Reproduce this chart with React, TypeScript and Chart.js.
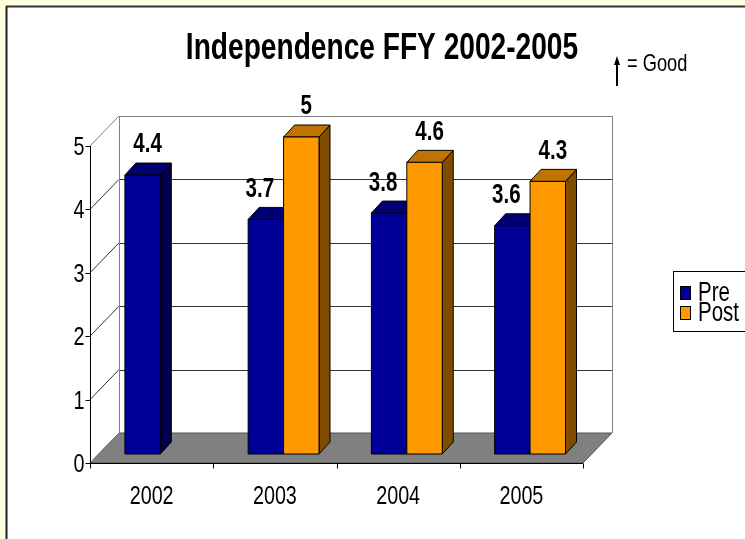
import React, { useEffect, useRef } from "react";
import { Chart, registerables } from "chart.js";

Chart.register(...registerables);

const categories = ["2002", "2003", "2004", "2005"];
const preValues: (number | null)[] = [4.4, 3.7, 3.8, 3.6];
const postValues: (number | null)[] = [null, 5, 4.6, 4.3];
const yTicks = [0, 1, 2, 3, 4, 5];
const seriesNames = ["Pre", "Post"];
const titleText = "Independence FFY 2002-2005";
const goodText = "= Good";

const frontColors = ["#000099", "#FF9900"];
const topColors = ["#000073", "#C07300"];
const sideColors = ["#00004D", "#7F4C00"];

const W = 745;
const H = 539;
const NARROW = 0.76;
const FONT = "'Liberation Sans', Arial, sans-serif";

function ntext(
  ctx: CanvasRenderingContext2D,
  text: string,
  x: number,
  y: number,
  font: string,
  align: CanvasTextAlign,
  color = "#000"
) {
  ctx.save();
  ctx.font = font;
  ctx.fillStyle = color;
  ctx.textBaseline = "middle";
  ctx.textAlign = align;
  ctx.translate(x, y);
  ctx.scale(NARROW, 1);
  ctx.fillText(text, 0, 0);
  ctx.restore();
}

function line(ctx: CanvasRenderingContext2D, x1: number, y1: number, x2: number, y2: number, color: string, w = 1) {
  ctx.save();
  ctx.strokeStyle = color;
  ctx.lineWidth = w;
  ctx.beginPath();
  ctx.moveTo(x1, y1);
  ctx.lineTo(x2, y2);
  ctx.stroke();
  ctx.restore();
}

function poly(ctx: CanvasRenderingContext2D, pts: number[][], fill: string, stroke: string | null) {
  ctx.save();
  ctx.beginPath();
  ctx.moveTo(pts[0][0], pts[0][1]);
  for (let i = 1; i < pts.length; i++) ctx.lineTo(pts[i][0], pts[i][1]);
  ctx.closePath();
  ctx.fillStyle = fill;
  ctx.fill();
  if (stroke) {
    ctx.strokeStyle = stroke;
    ctx.lineWidth = 1;
    ctx.stroke();
  }
  ctx.restore();
}

// 3D offsets relative to the bar plane (the chart area)
const FDX = -8.7, FDY = 9; // front plane
const BDX = 20.3, BDY = -21; // back wall
const DDX = 11, DDY = -12; // bar depth

const threeD = {
  id: "threeD",
  beforeDraw(chart: any) {
    const ctx = chart.ctx as CanvasRenderingContext2D;
    ctx.save();
    ctx.fillStyle = "#FFFFE0";
    ctx.fillRect(0, 0, W, H);
    ctx.fillStyle = "#FFFFFF";
    ctx.fillRect(7, 7, W - 7, H - 7);
    ctx.restore();
    line(ctx, 6, 6.5, W, 6.5, "#333", 2);
    line(ctx, 6.5, 6, 6.5, H, "#222", 2);
  },
  beforeDatasetsDraw(chart: any) {
    const ctx = chart.ctx as CanvasRenderingContext2D;
    const xs = chart.scales.x;
    const ys = chart.scales.y;
    const area = chart.chartArea;
    const L = area.left, R = area.right;
    const y0 = ys.getPixelForValue(0);
    const yMax = ys.getPixelForValue(5);
    const catW = (R - L) / categories.length;

    const bl = L + BDX, br = R + BDX;
    // floor
    poly(ctx, [[L + FDX, y0 + FDY], [R + FDX, y0 + FDY], [br, y0 + BDY], [bl, y0 + BDY]], "#808080", "#555");

    // gridlines on back and side walls
    yTicks.forEach((v) => {
      const y = ys.getPixelForValue(v);
      const col = v === 5 ? "#808080" : "#333";
      if (v > 0) {
        line(ctx, bl, Math.round(y + BDY) + 0.5, br, Math.round(y + BDY) + 0.5, col);
      }
      line(ctx, L + FDX, y + FDY, bl, y + BDY, v === 5 || v === 0 ? "#808080" : "#333");
    });
    line(ctx, Math.round(bl) + 0.5, yMax + BDY, Math.round(bl) + 0.5, y0 + BDY, "#808080");
    line(ctx, Math.round(br) + 0.5, yMax + BDY, Math.round(br) + 0.5, y0 + BDY, "#808080");

    // front axes
    const fx = Math.round(L + FDX) + 0.5;
    line(ctx, fx, yMax + FDY, fx, y0 + FDY, "#000");
    const fy = Math.round(y0 + FDY) + 0.5;
    line(ctx, L + FDX, fy, R + FDX, fy, "#000");
    yTicks.forEach((v) => {
      const y = Math.round(ys.getPixelForValue(v) + FDY) + 0.5;
      line(ctx, fx - 5, y, fx, y, "#000");
      ntext(ctx, String(v), fx - 6, y + 1, `26px ${FONT}`, "right");
    });
    for (let i = 0; i <= categories.length; i++) {
      const x = Math.round(L + FDX + i * catW) + 0.5;
      line(ctx, x, fy, x, fy + 5, "#000");
    }
    categories.forEach((c, i) => {
      const x = xs.getPixelForValue(i) + FDX;
      ntext(ctx, c, x, fy + 33, `26px ${FONT}`, "center");
    });

    // bars
    const metas = [chart.getDatasetMeta(0), chart.getDatasetMeta(1)];
    const values = [preValues, postValues];
    categories.forEach((_, i) => {
      metas.forEach((meta: any, d: number) => {
        const v = values[d][i];
        if (v === null || v === undefined) return;
        const el = meta.data[i];
        const p = el.getProps(["x", "y", "base", "width"], true);
        const x0 = p.x - p.width / 2, x1 = p.x + p.width / 2;
        const top = p.y, base = p.base;
        poly(ctx, [[x1, top], [x1 + DDX, top + DDY], [x1 + DDX, base + DDY], [x1, base]], sideColors[d], "#000");
        poly(ctx, [[x0, top], [x1, top], [x1 + DDX, top + DDY], [x0 + DDX, top + DDY]], topColors[d], "#000");
        poly(ctx, [[x0, top], [x1, top], [x1, base], [x0, base]], frontColors[d], "#000");
      });
    });
    // value labels
    categories.forEach((_, i) => {
      metas.forEach((meta: any, d: number) => {
        const v = values[d][i];
        if (v === null || v === undefined) return;
        const el = meta.data[i];
        const p = el.getProps(["x", "y"], true);
        const hasPost = postValues[i] !== null;
        const dx = d === 0 && hasPost ? -6 : 5;
        ntext(ctx, String(v), p.x + dx, p.y - 30, `bold 27px ${FONT}`, "center");
      });
    });
    return false;
  },
  afterDraw(chart: any) {
    const ctx = chart.ctx as CanvasRenderingContext2D;
    // title
    ntext(ctx, titleText, 382, 49, `bold 37px ${FONT}`, "center");
    // good arrow
    line(ctx, 617, 86, 617, 63, "#000", 2);
    poly(ctx, [[617, 56], [614, 65], [620, 65]], "#000", null);
    ntext(ctx, goodText, 627, 64, `24px ${FONT}`, "left");
    // legend
    ctx.save();
    ctx.fillStyle = "#fff";
    ctx.fillRect(673.5, 271.5, 100, 60);
    ctx.strokeStyle = "#000";
    ctx.lineWidth = 1;
    ctx.strokeRect(673.5, 271.5, 100, 60);
    ctx.restore();
    chart.data.datasets.forEach((ds: any, i: number) => {
      const cy = 293 + i * 20;
      ctx.save();
      ctx.fillStyle = ds.backgroundColor;
      ctx.fillRect(680.5, cy - 6.5, 10, 13);
      ctx.strokeStyle = "#000";
      ctx.strokeRect(680.5, cy - 6.5, 10, 13);
      ctx.restore();
      ntext(ctx, ds.label, 698, cy + 1, `27px ${FONT}`, "left");
    });
  },
};

export default function App() {
  const ref = useRef<HTMLCanvasElement>(null);
  useEffect(() => {
    if (!ref.current) return;
    const L = 98.7, R = 591.7, T = 137, B = 454;
    const chart = new Chart(ref.current, {
      type: "bar",
      data: {
        labels: categories,
        datasets: [
          { label: seriesNames[0], data: preValues, backgroundColor: frontColors[0] },
          { label: seriesNames[1], data: postValues, backgroundColor: frontColors[1] },
        ],
      },
      options: {
        responsive: false,
        animation: false,
        devicePixelRatio: 1,
        categoryPercentage: 0.575,
        barPercentage: 1,
        layout: { padding: { left: L, right: W - R, top: T, bottom: H - B } },
        scales: {
          x: { display: false },
          y: { display: false, min: 0, max: 5 },
        },
        plugins: {
          legend: { display: false },
          title: { display: false },
          tooltip: { enabled: false },
        },
      } as any,
      plugins: [threeD as any],
    });
    return () => chart.destroy();
  }, []);
  return (
    <div style={{ position: "fixed", left: 0, top: 0, width: W, height: H }}>
      <canvas ref={ref} width={W} height={H} style={{ display: "block", width: W, height: H }} />
    </div>
  );
}
